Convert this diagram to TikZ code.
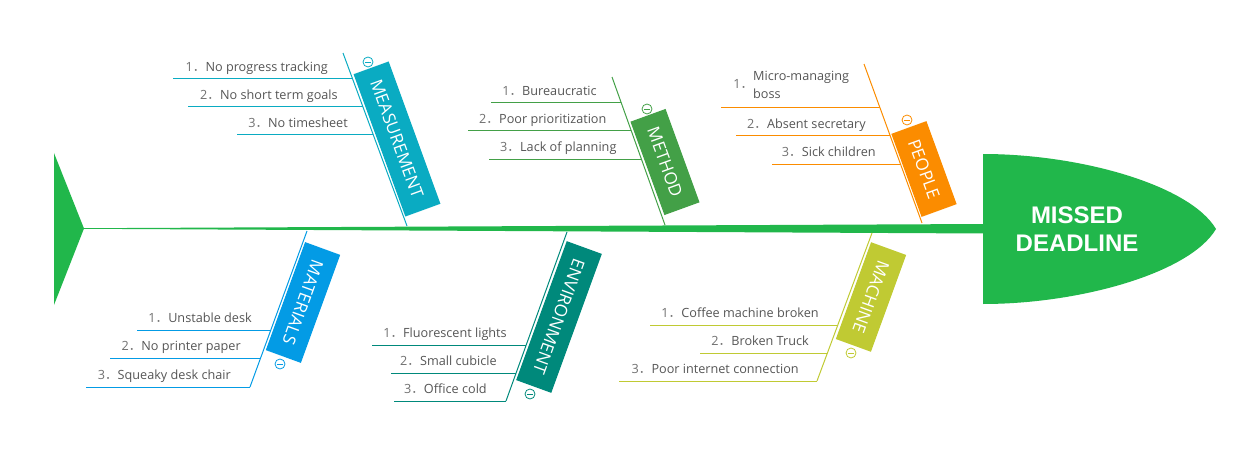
\documentclass[tikz,border=0pt]{standalone}
\usepackage{fontspec}
\setmainfont{Open Sans}
\newfontfamily\headfont{Liberation Sans}
\newfontfamily\cjk{Noto Sans CJK SC}
\definecolor{spine}{HTML}{21B74B}
\definecolor{cMeas}{HTML}{0AABC2}
\definecolor{cMeth}{HTML}{43A047}
\definecolor{cPeop}{HTML}{FB8C00}
\definecolor{cMat}{HTML}{039BE5}
\definecolor{cEnv}{HTML}{00897B}
\definecolor{cMach}{HTML}{C0CA33}
\definecolor{itemtext}{HTML}{555555}
\definecolor{numgray}{HTML}{707070}
\newcommand{\nm}[1]{{\color{numgray}#1{\cjk ．}}}
% color, y, xleft, xbone, xtextend, name, text
\newcommand{\branch}[7]{%
  \draw[bone=#1] (#3,#2) -- (#4,#2);
  \node[item] (#6) at (#5,#2-7.5) {#7};}
\begin{document}
\begin{tikzpicture}[x=0.75pt,y=-0.75pt,
  cat/.style={fill=#1, text=white, minimum height=28pt, inner xsep=10pt, inner ysep=0pt,
    font=\fontsize{12.8}{14}\selectfont},
  bone/.style={draw=#1, line width=0.75pt},
  item/.style={anchor=base east, text=itemtext, inner sep=0pt,
    font=\fontsize{9.5}{13.5}\selectfont},
  tog/.style={circle, draw=#1, line width=0.6pt, minimum size=7.5pt, inner sep=0pt,
    path picture={\draw[#1, line width=0.6pt]
      ([xshift=-2pt]path picture bounding box.center) --
      ([xshift=2pt]path picture bounding box.center);}}
]
\useasboundingbox (0,0) rectangle (1247,467);

% tail and spine
\fill[spine] (54,153) -- (84,228.5) -- (54,305) -- cycle;
\fill[spine] (84,228.2) -- (984,224) -- (984,233.5) -- (84,228.8) -- cycle;
% head
\fill[spine] (983,154) .. controls (1080,154) and (1190,185) .. (1216,229)
  .. controls (1190,273) and (1080,304) .. (983,304) -- cycle;
\node[font=\headfont\bfseries\fontsize{18}{20.8}\selectfont, text=white, align=center]
  (head) at (1077,229) {MISSED\\DEADLINE};

% ---------- MEASUREMENT ----------
\coordinate (measT) at (343,53);
\coordinate (measB) at (407,226);
\draw[bone=cMeas] (measT) -- (measB);
\node[cat=cMeas, rotate=-70] (meas) at (397,139) {MEASUREMENT};
\node[tog=cMeas] (measTog) at (368,62) {};
\branch{cMeas}{79}{173}{352.6}{328}{m1}{\nm{1}No progress tracking}
\branch{cMeas}{107}{188}{363}{338}{m2}{\nm{2}No short term goals}
\branch{cMeas}{135}{237}{373.3}{348}{m3}{\nm{3}No timesheet}

% ---------- METHOD ----------
\coordinate (methT) at (612,77);
\coordinate (methB) at (665,225);
\draw[bone=cMeth] (methT) -- (methB);
\node[cat=cMeth, rotate=-70] (meth) at (665,162) {METHOD};
\node[tog=cMeth] (methTog) at (647,109) {};
\branch{cMeth}{103}{491}{621.3}{597}{t1}{\nm{1}Bureaucratic}
\branch{cMeth}{131}{468}{631.3}{606.7}{t2}{\nm{2}Poor prioritization}
\branch{cMeth}{159}{489}{641.4}{616.7}{t3}{\nm{3}Lack of planning}

% ---------- PEOPLE ----------
\coordinate (peopT) at (864,64);
\coordinate (peopB) at (922,223);
\draw[bone=cPeop] (peopT) -- (peopB);
\node[cat=cPeop, rotate=-70] (peop) at (924,169) {PEOPLE};
\node[tog=cPeop] (peopTog) at (907,120) {};
\draw[bone=cPeop] (721,108) -- (880,108);
\node[anchor=west, text=itemtext, inner sep=0pt, font=\fontsize{9.5}{13.5}\selectfont]
  (p1) at (733,86) {\nm{1}\begin{tabular}{@{}l@{}}Micro-managing\\boss\end{tabular}};
\branch{cPeop}{136}{736}{890.3}{866}{p2}{\nm{2}Absent secretary}
\branch{cPeop}{164}{772}{900.5}{876}{p3}{\nm{3}Sick children}

% ---------- MATERIALS ----------
\coordinate (matT) at (307,231);
\coordinate (matB) at (250,387);
\draw[bone=cMat] (matT) -- (matB);
\node[cat=cMat, rotate=-110] (mat) at (303,302.5) {MATERIALS};
\node[tog=cMat] (matTog) at (280,364) {};
\branch{cMat}{330}{137}{270.9}{252}{a1}{\nm{1}Unstable desk}
\branch{cMat}{358}{110}{260.6}{241}{a2}{\nm{2}No printer paper}
\branch{cMat}{387}{86}{250}{231}{a3}{\nm{3}Squeaky desk chair}

% ---------- ENVIRONMENT ----------
\coordinate (envT) at (567,232);
\coordinate (envB) at (506,401);
\draw[bone=cEnv] (envT) -- (envB);
\node[cat=cEnv, rotate=-110] (env) at (559,317) {ENVIRONMENT};
\node[tog=cEnv] (envTog) at (530,394) {};
\branch{cEnv}{345}{372}{526.2}{507}{e1}{\nm{1}Fluorescent lights}
\branch{cEnv}{373}{391}{516.1}{497}{e2}{\nm{2}Small cubicle}
\branch{cEnv}{401}{394}{506}{487}{e3}{\nm{3}Office cold}

% ---------- MACHINE ----------
\coordinate (machT) at (872,233);
\coordinate (machB) at (817,381);
\draw[bone=cMach] (machT) -- (machB);
\node[cat=cMach, rotate=-110] (mach) at (871,297) {MACHINE};
\node[tog=cMach] (machTog) at (851,353) {};
\branch{cMach}{325}{650}{837.8}{819}{c1}{\nm{1}Coffee machine broken}
\branch{cMach}{353}{700}{827.4}{809}{c2}{\nm{2}Broken Truck}
\branch{cMach}{381}{619}{817}{799}{c3}{\nm{3}Poor internet connection}
\end{tikzpicture}
\end{document}
